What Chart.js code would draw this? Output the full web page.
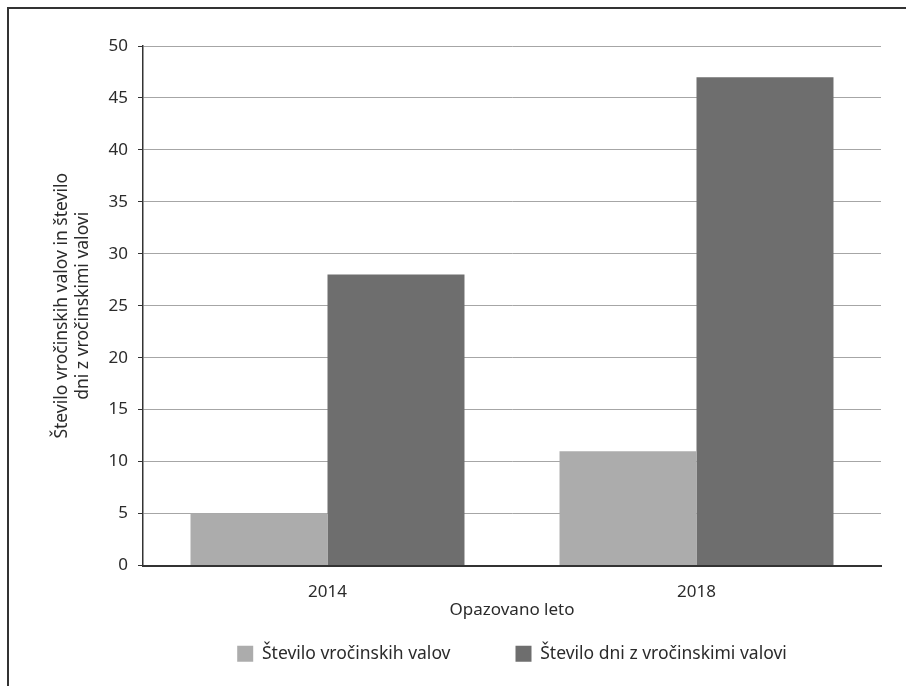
<!DOCTYPE html>
<html lang="sl">
<head>
<meta charset="UTF-8">
<script src="https://cdn.jsdelivr.net/npm/chart.js"></script>
<style>
  html, body { margin: 0; padding: 0; background: #fff; }
  #frame {
    position: absolute; left: 7px; top: 7px; width: 899px; height: 679px;
    border-top: 2px solid #333; border-left: 2px solid #333; box-sizing: border-box;
  }
  #plot { position: absolute; left: 0; top: 0; width: 907px; height: 686px; }
</style>
</head>
<body>
<div id="frame"></div>
<div id="plot"><canvas id="myChart" width="907" height="686"></canvas></div>
<script>
  // data
  const years = ['2014', '2018'];
  const heatWaves = [5, 11];
  const heatWaveDays = [28, 47];
  const yTicks = [0, 5, 10, 15, 20, 25, 30, 35, 40, 45, 50];

  const font = { family: 'Noto Sans', size: 17 };
  const legendFont = { family: 'Noto Sans', size: 17.5 };
  const titleFont = { family: 'Noto Sans', size: 17.5 };
  const textColor = '#2b2b2b';

  const ctx = document.getElementById('myChart').getContext('2d');
  const myChart = new Chart(ctx, {
    type: 'bar',
    data: {
      labels: years,
      datasets: [
        { label: 'Število vročinskih valov', data: heatWaves, backgroundColor: '#acacac' },
        { label: 'Število dni z vročinskimi valovi', data: heatWaveDays, backgroundColor: '#6e6e6e' }
      ]
    },
    options: {
      responsive: false,
      animation: false,
      devicePixelRatio: 1,
      layout: { padding: { left: 52, right: 26, top: 46, bottom: 13.5 } },
      datasets: { bar: { barPercentage: 1, categoryPercentage: 0.7425 } },
      plugins: {
        tooltip: { enabled: false },
        legend: {
          position: 'bottom',
          fullSize: false,
          labels: {
            font: legendFont, color: textColor, boxWidth: 16, boxHeight: 16, padding: 65
          }
        }
      },
      scales: {
        x: {
          grid: { display: false, drawTicks: false },
          border: { color: '#333', width: 2 },
          // mirror = labels not clipped to the (short) axis box; negative padding puts them below the axis
          ticks: { font: font, color: textColor, mirror: true, padding: -37 },
          afterFit: (axis) => { axis.height = 14.5; },
          title: { display: true, text: 'Opazovano leto', font: font, color: textColor, padding: { top: 0, bottom: -40.5 } }
        },
        y: {
          min: 0, max: 50,
          afterBuildTicks: (axis) => { axis.ticks = yTicks.map(v => ({ value: v })); },
          afterFit: (axis) => { axis.width = 91; },
          grid: { color: '#a6a6a6', lineWidth: 1, tickColor: '#333', tickLength: 5 },
          border: { color: '#333', width: 1.5 },
          ticks: { font: font, color: textColor, padding: 10 },
          title: {
            display: true,
            text: ['Število vročinskih valov in število', 'dni z vročinskimi valovi'],
            font: titleFont, color: textColor, padding: { top: 0, bottom: 0 }
          }
        }
      }
    }
  });
</script>
</body>
</html>
